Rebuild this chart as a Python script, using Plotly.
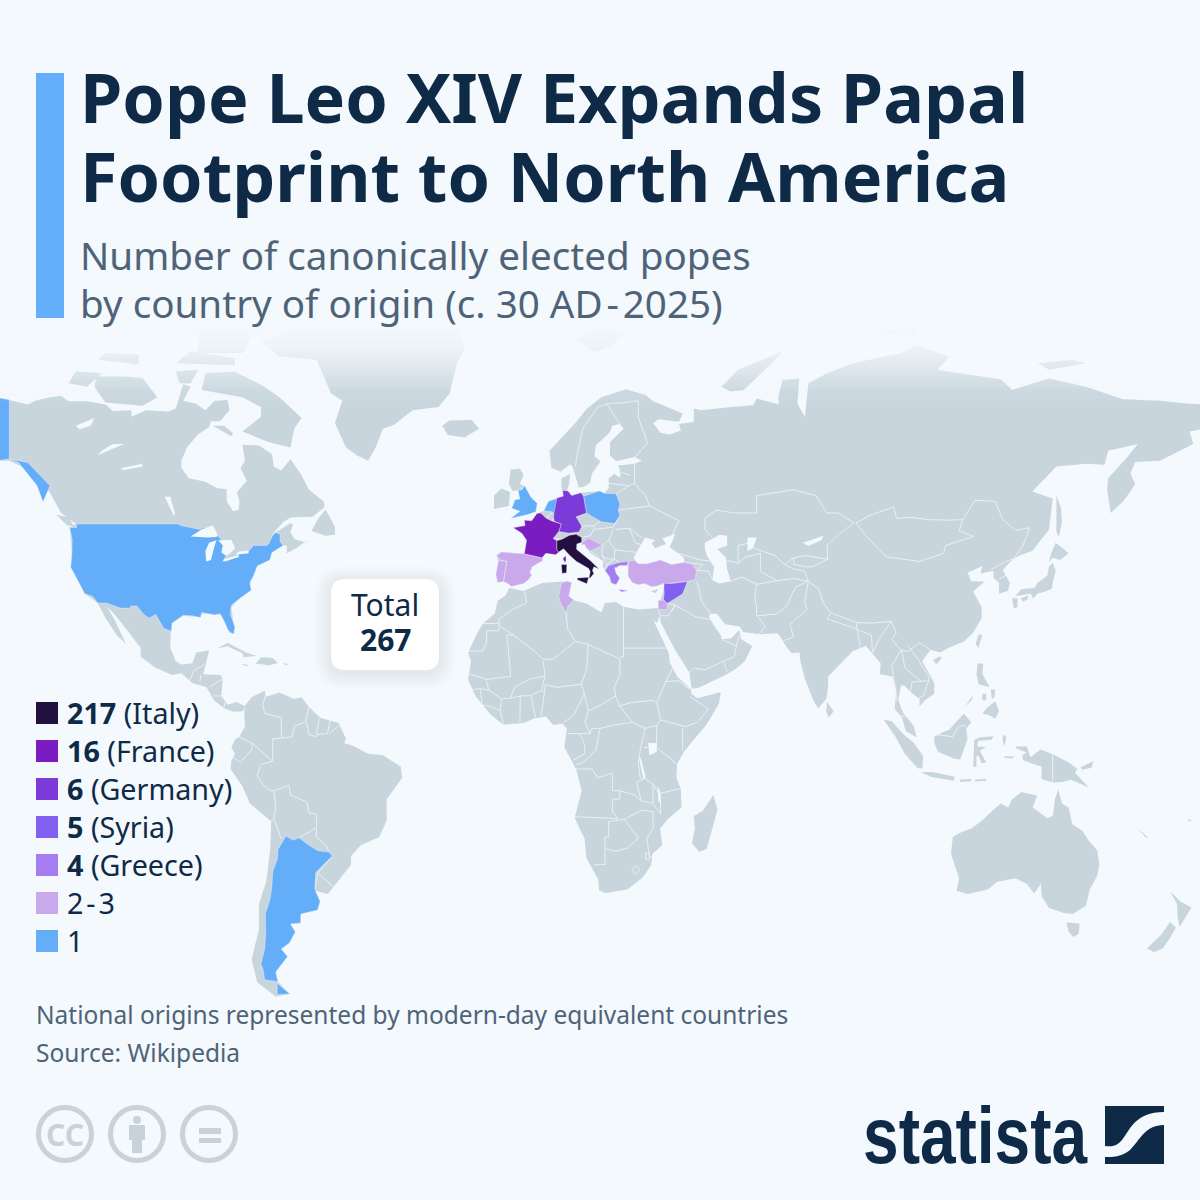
import numpy as np
import plotly.graph_objects as go

# colours
BG = "#f4f9fd"
LAND = "#c8d5dd"
EDGE = "#f1f6fa"
NAVY = "#0f2a47"
GREY = "#4f6378"
ICON = "#c9d2d8"
C_ITALY = "#22113f"
C_FRANCE = "#7a1cbf"
C_GERMANY = "#7c3bd9"
C_SYRIA = "#8260f0"
C_GREECE = "#a67cf3"
C_23 = "#c9a8ec"
C_1 = "#64adf9"

legend_values = ["217", "16", "6", "5", "4", "2\u200a-\u200a3", "1"]
legend_names = ["(Italy)", "(France)", "(Germany)", "(Syria)", "(Greece)", "", ""]
legend_colors = [C_ITALY, C_FRANCE, C_GERMANY, C_SYRIA, C_GREECE, C_23, C_1]
total_popes = 267

# map projection of the picture: longitude is linear, latitude follows this table
lat_knots = [-60, -55, -46.6, -39, -34.8, -25.6, -12, 0, 4.8, 25, 32.5, 36, 43.8, 49, 51, 60.3, 63.4, 66.5, 69.6, 71, 77.7, 84]
y_knots = [1022, 995, 952, 914, 893, 852, 795, 743, 723, 635, 603, 587, 552, 524, 513, 459, 438, 420, 400, 390, 345, 296]

# land, lon/lat
north_america = [(-150,70.4),(-141,69.6),(-136,68.9),(-134,69.5),(-130,70),(-127,70.2),(-125,69.4),(-120,69.4),(-115,68.9),(-113,67.9),(-108,68),(-108,67),(-104,68),(-98,67.8),(-96,68.3),(-94,71.9),(-92,71.5),(-94,69.5),(-90.5,69),(-88,68),(-85.5,69.5),(-82,69.6),(-81.5,68),(-84,66.3),(-86.5,66.3),(-87,65.3),(-90,64),(-93,62),(-94.5,60),(-94.5,58.8),(-92.5,57),(-88,56.4),(-85,55.3),(-82.3,55.1),(-82.2,53),(-80.5,51.3),(-79,51.5),(-78.8,53),(-79.5,54.6),(-76.8,56.5),(-78.5,58.7),(-77.3,60),(-78,62.4),(-73.5,62.3),(-70,61),(-69.5,59),(-67.5,58.3),(-65,60.3),(-62,57.5),(-60,55),(-56,53),(-55.8,52),(-59,50.3),(-65,50.2),(-67,49.3),(-70,47),(-65,49.2),(-64.3,48.8),(-65,47.5),(-64,46.2),(-61,45.6),(-60,46.2),(-63.5,44.5),(-66,43.5),(-66,45),(-67,45),(-70,43.7),(-74,40.7),(-76,36.5),(-81,31.5),(-80,25.3),(-81.5,25.5),(-83,29),(-84.5,30),(-89,30),(-90,29.2),(-94,29.5),(-97.3,27.5),(-97.5,22),(-96,19),(-94.5,18.2),(-91.5,18.5),(-90.5,21),(-87,21.5),(-88,18),(-88.6,16),(-84,15.8),(-83.3,15),(-83.7,11),(-82,9),(-79.5,9.6),(-77.4,8.7),(-77.8,7.5),(-80.3,7.4),(-83,8.2),(-85.7,10),(-87.7,13),(-91.5,14),(-94.5,16.2),(-97,15.8),(-101.5,17.5),(-105.5,20),(-105.5,22),(-109,26),(-112.7,30),(-114.7,31.7),(-112.5,28.5),(-110,24.2),(-109.5,23),(-112,25),(-115,29),(-117.1,32.5),(-120.5,34.5),(-122.5,37.5),(-124.4,40.4),(-124.1,44),(-124.7,48.4),(-123,49),(-127,51),(-130,54.5),(-133,57),(-137,58.8),(-141,60),(-150,60)]
south_america = [(-77.4,8.7),(-75.5,10.7),(-72,12.2),(-71.5,10.8),(-68,11.8),(-64,10.3),(-62,10.7),(-60,8.5),(-57,6),(-52,4.8),(-50,1),(-50.5,0),(-48,-0.7),(-44,-2.5),(-40,-2.8),(-35.2,-5.5),(-34.8,-8),(-39,-13),(-39,-18),(-41,-22),(-46,-24),(-48.6,-26.5),(-48.7,-28.5),(-53,-33),(-54.9,-35),(-58.4,-34.3),(-57,-36.5),(-57.7,-38.2),(-62.2,-39),(-62.3,-40.8),(-65,-41),(-63.7,-42.6),(-65.3,-44.8),(-67.5,-46),(-65.8,-47.5),(-69,-50.5),(-68.4,-52.4),(-65.2,-54.8),(-69,-55.3),(-74,-52.5),(-75.5,-48),(-73.5,-42),(-73.5,-37),(-71.5,-32),(-70.5,-25),(-70.2,-18.3),(-76,-14),(-78,-10),(-81.2,-6),(-81,-4.2),(-80,-2.5),(-81,-1),(-80,0.8),(-78.8,1.5),(-77.3,4),(-77.5,7)]
eurasia = [(-9,37),(-9.5,38.8),(-8.8,41.5),(-9.3,43),(-8,43.8),(-4,43.5),(-1.8,43.4),(-1.2,45),(-1.2,46.2),(-2.5,47.3),(-4.8,48.3),(-1.6,48.7),(-1.8,49.7),(0.2,49.6),(1.6,50.9),(3.5,51.4),(4.7,53),(7,53.6),(8.7,53.9),(8.2,55.5),(8.2,57),(10.6,57.7),(10.3,56),(9.8,54.9),(11,54),(13.5,54.5),(18.5,54.8),(19.8,54.4),(21,55.3),(21,57),(22.5,57.7),(24.2,57.1),(24,58.4),(23.5,59.2),(28,59.5),(30,60),(28,60.6),(23,59.9),(21.3,60.8),(21.4,62.8),(25,65),(24,65.8),(22,65.5),(21.2,64.3),(17.5,62.3),(17.2,60.7),(18.8,59.9),(16.5,57.8),(16,56.2),(14.3,55.5),(12.9,55.4),(11.3,58.9),(10.6,59.4),(8,58.1),(5.5,58.8),(5,61.5),(8.5,63.5),(12,66),(15,68.2),(19,70),(25.7,71.1),(31,70.3),(33,69.4),(41,67.5),(40,66.2),(34.5,66.6),(33,66),(35,64.3),(37.5,64),(40.5,64.7),(40,65.8),(44,66.2),(44,68.3),(46,68),(54,68.5),(60,68.8),(61,69.8),(67,68.9),(66.8,70),(68,72.5),(72.5,72.7),(72,69),(74,67),(75,72),(80,73.5),(87,75),(100,76.5),(104,77.7),(113,76),(110,74),(113,73.7),(127,72.6),(130,71),(140,72.7),(150,71.5),(160,69.7),(170,69.5),(178,69),(182,68.9),(182,65),(178,64.5),(179,62.5),(170,60),(163.3,59.8),(162,57.8),(163.3,56),(162,54.7),(160,53),(156.7,51),(155.7,55),(156,57),(161,60.5),(164,62.5),(156,61.5),(155,59.3),(150,59.5),(142,59),(135.5,54.7),(141,53.5),(140,48),(135.5,44),(132,43),(130,42),(127.5,39.8),(129.4,37),(129,35.2),(126.5,34.5),(126.5,37),(125,38),(125,39.6),(121.5,39),(122,40.7),(118,39.2),(119,37.3),(122.6,37.2),(119.5,35),(121.8,31.5),(121.8,29),(119.5,25.5),(117,23.5),(113.5,22.3),(110.5,21),(108,21.6),(105.7,19),(109,14),(109,11.5),(106.5,10),(105,8.6),(105,10.3),(102.5,12),(100.9,13.4),(100,13.4),(99.3,10),(100.5,7.2),(103.5,4),(104.2,1.4),(101.3,2.8),(100.3,6),(98.3,8),(98.7,12),(97.7,15.5),(95.5,15.9),(94.3,16),(94.5,18.5),(92.3,20.8),(90.5,22.5),(87,21.3),(85,19.5),(80.3,15.5),(80.3,13),(79.8,10.3),(77.6,8.1),(76.3,10),(74,15),(72.8,19),(72.6,21),(70.5,20.8),(69,22.3),(67.3,24.7),(66.5,25.4),(61.6,25.2),(57.3,25.7),(56.4,27),(52.5,27.5),(50.2,30),(48.5,30),(48,29.3),(50,26.5),(51.3,25),(51.6,24),(54,24.2),(56.3,26.2),(56.8,24),(59.8,22.5),(57.8,19),(55,17),(52,15.6),(45,12.8),(43.4,12.7),(42.8,16.4),(39,21.5),(35,28),(34.9,29.5),(34.3,31.3),(35,33),(35.9,35.5),(36.2,36.7),(34,36.2),(32.5,36.1),(30.6,36.8),(29,36.5),(27.4,37),(26.3,38.4),(26.2,39.5),(28,40.4),(29,41),(31.4,41.2),(35,42),(38,41),(41.5,41.5),(41.2,42.7),(37.5,44.7),(39,47.2),(35.5,46.3),(36.5,45.3),(33.5,44.5),(32.6,45.4),(33.6,46),(30.8,46.5),(29.7,45.2),(28.6,43.7),(27.7,42.5),(28.9,41.2),(26.4,40.8),(24,40.8),(23,40.3),(22.6,40.3),(23,39),(24,38),(23,36.5),(21.7,36.9),(21.2,38.3),(19.4,40.5),(19.5,41.8),(16,43.5),(14.5,45.2),(13.7,45.6),(12.4,45.3),(12.3,44.3),(13.6,43.5),(16,41.9),(18.4,40),(17,40.5),(16.6,39.7),(17,39),(16,38),(15.7,38),(16,39.4),(15.6,40.1),(14.2,40.8),(12.3,41.7),(10.5,43),(8.8,44.4),(6.7,43.2),(4,43.5),(3,42.5),(3.2,41.9),(0.3,40.5),(-0.3,39.3),(0.2,38.7),(-0.7,37.6),(-2,36.8),(-5.3,36.1),(-6.3,36.8),(-7.4,37.2)]
africa = [(-5.9,35.8),(-2,35.1),(3,36.9),(9.7,37.3),(11,37),(10.2,34),(11,33.2),(15,32.4),(19,30.3),(20,32.5),(23,32.7),(25,31.6),(29,31),(32,31.2),(34.3,31.3),(34.9,29.5),(34,27.8),(33.2,28.5),(32.6,29.9),(33.6,27.5),(35.5,24),(37.2,21),(37.5,18.7),(39.5,15.5),(43.3,12.5),(43.3,11.5),(45,10.5),(51.3,11.9),(50.8,9.3),(47.5,4.5),(41.5,-1.8),(39.5,-4.8),(39.3,-8),(40.5,-10.7),(40.7,-15),(37,-17.7),(34.9,-20),(35.5,-24),(32.8,-26),(32.5,-28.5),(30,-31.5),(26,-34),(20,-34.8),(18.4,-34.2),(18.2,-31.8),(15,-27),(14.5,-22.5),(11.8,-17.5),(13.7,-11),(12.2,-6),(9,-1),(9.7,3.5),(8.5,4.6),(6,4.3),(4,6.3),(1,5.9),(-2,4.8),(-7.5,4.4),(-11,6.8),(-13.5,9.5),(-15,11),(-17,14.7),(-16.2,19),(-17,21),(-14.8,25),(-13,27.7),(-9.8,30),(-9,33),(-6.8,34.2)]
australia = [(114,-22),(113.5,-26),(115.7,-31.5),(115,-34.3),(118,-35),(123.5,-34),(126,-32.3),(131,-31.5),(134,-32.8),(136,-34.9),(137.8,-32.7),(138,-35.5),(140,-37.8),(144,-38.8),(146.4,-39),(150,-37.3),(151,-34),(153,-31),(153.6,-28.6),(153,-25.2),(150.8,-23),(149,-20.5),(146.3,-19),(145.3,-15),(143.5,-14),(142.5,-10.7),(141.6,-13),(141,-17),(139.5,-17.5),(135.6,-15),(136.8,-12.2),(132.6,-11.3),(130,-13),(129,-15),(127,-14),(125,-15.5),(122,-18),(119,-20),(116,-21)]
greenland = [(-73,78.2),(-68,76),(-58,75.5),(-54,70.5),(-51,69.5),(-53,66),(-50,62),(-47,60.8),(-44,60),(-42,62),(-40,65),(-37,65.7),(-32,68),(-25,68.5),(-22,70.5),(-20,75),(-18,77),(-20,81),(-30,83.5),(-45,82.8),(-60,82),(-65,80.5),(-68,79)]
islands = [
    [(-80,73.7),(-72,71.5),(-68,70),(-62,66.8),(-64,65),(-65,62),(-71,62.8),(-78,64.5),(-73,67),(-73,68.5),(-78,70),(-89,71),(-88,73.5)],
    [(-118,71.5),(-117.5,73),(-110,73),(-105,72.8),(-101,70),(-105,68.7),(-115,69.2)],
    [(-125,72),(-123,73.8),(-116,73.5),(-120,71.5)],
    [(-90,76.5),(-78,76.5),(-75,79),(-65,81),(-62,82.5),(-75,83),(-90,81.5)],
    [(-96,75),(-80,74.7),(-80,75.7),(-92,76.8)],
    [(-95,80),(-87,79),(-88,81.5)],
    [(-96,73.8),(-90,74),(-92,72),(-95,72)],
    [(-117,75.5),(-106,74.8),(-106,76.3),(-115,76.5)],
    [(-86,65.5),(-81,63.7),(-80.5,64.2),(-83,65.5)],
    [(-59.3,47.7),(-55.5,46.8),(-53,47),(-53,48.5),(-55.5,51.6),(-57.5,50)],
    [(-128.3,50.7),(-125,50.2),(-123.3,48.4),(-125.5,48.8)],
    [(-24,65.5),(-22,66.4),(-16,66.5),(-14,65),(-18,63.5),(-22.5,63.9)],
    [(12,78.5),(17,80),(27,80),(22,77.5),(17,76.7)],
    [(51.5,71.5),(56,74),(68,76.8),(66,75.5),(57.5,71),(54,70.8)],
    [(95,79),(105,79),(100,81)],
    [(137,75),(146,75.5),(150,75),(140,74)],
    [(142,54),(143.2,52),(143.5,49.3),(142.7,46.7),(142,47.5),(142,50)],
    [(-84.9,21.9),(-82,23.2),(-77,21),(-74.2,20.2),(-77.7,19.9),(-78,20.8),(-82,22.4)],
    [(-74.4,18.4),(-73,19.9),(-69.8,19.7),(-68.4,18.6),(-71,18),(-72,18.2)],
    [(-78.3,18.4),(-76.3,18.1),(-77,17.8)],
    [(-67.2,18.5),(-65.7,18.4),(-66,18)],
    [(-5.5,58.5),(-3,58.6),(-2,57.6),(-3,56),(-1.7,55.6),(-3,55),(-5,54.8),(-6,56)],
    [(-10,54),(-8,55.2),(-5.7,54.6),(-6,52.2),(-10,51.7)],
    [(80,9.6),(81.8,7.5),(80.5,6),(79.8,7.5)],
    [(121,25.2),(122,25),(120.9,22),(120.2,23)],
    [(108.7,19.3),(110.5,20.1),(111,19.6),(109.5,18.2)],
    [(130.9,34),(132.5,35.5),(136,35.8),(137,37),(139.5,38.5),(140,40.5),(141,41.5),(141.8,39.5),(141,37),(140.8,35.6),(139,35),(137,34.6),(135.7,33.5),(135,34.6),(132.5,34.2)],
    [(140,41.5),(140.5,43.3),(141.8,45.5),(145.3,43.5),(143,42),(141,42.5)],
    [(130,33.5),(131.5,33.6),(131.5,31.5),(130.5,31.2)],
    [(132.3,33.5),(134.5,34.2),(134.2,33.3),(133,32.8)],
    [(120.4,16),(120.7,18.5),(122.2,18.4),(122,16),(124,13),(121,13.7)],
    [(122,7),(123.5,8.5),(125.5,9.8),(126.5,7.5),(125.5,5.8),(124,6.5)],
    [(122,11.5),(123,11.5),(123,10),(122,10)],
    [(124.3,12.5),(125.5,12.5),(125.2,10.5),(124.5,10.5)],
    [(117.2,8.4),(119.5,11.3),(119.2,10.2)],
    [(109,1.5),(111.5,2.7),(113,3.2),(115.5,5.5),(117,7),(119,5),(117.6,3.5),(118,1),(116,-3.8),(114,-3.5),(110,-2),(109,0)],
    [(95.3,5.6),(97.5,5.2),(100.5,2.2),(103.5,0),(106,-3),(105.8,-5.8),(104.5,-5.8),(101,-2.5),(98.5,1.5)],
    [(105.3,-6.7),(108.5,-6.7),(114.5,-7.8),(114.3,-8.7),(108,-7.8)],
    [(116,-8.4),(119,-8.3),(119,-8.8),(116,-9)],
    [(120,-8.4),(123,-8.3),(123,-8.7),(120,-8.9)],
    [(123.5,-10.2),(127.2,-8.4),(125,-9.5)],
    [(119.5,-5.5),(119.8,0.7),(121,1.3),(125,1.6),(124.5,0.8),(120.8,0.5),(120.6,-0.8),(123,-0.9),(121.3,-1.8),(123,-4.5),(121.8,-4.7),(120.9,-2.8),(120.4,-3),(120.4,-5.5)],
    [(127.5,2),(128.5,1.5),(128,-0.8),(127.5,0.5)],
    [(128,-3),(130.8,-3.2),(130,-3.6),(128,-3.4)],
    [(131,-0.8),(134,-0.8),(135,-3.3),(137.7,-1.5),(141,-2.6),(145,-4.3),(147.7,-6),(147,-6.8),(150.8,-10.3),(146,-8.5),(143.5,-9),(141,-9.1),(138,-8.3),(138,-5.5),(133,-4),(132.8,-2.8),(134,-2.2),(131,-1.2)],
    [(148.5,-5.6),(152,-4.2),(151.5,-5.7),(149,-6.2)],
    [(164,-20),(167,-22.3),(166,-22)],
    [(177.5,-17.7),(178.6,-18),(177.8,-18.3)],
    [(144.7,-40.7),(148.3,-40.9),(148,-43),(146.5,-43.6),(145.3,-42.5)],
    [(172.7,-34.4),(175.5,-36.5),(178.5,-37.7),(177,-39.5),(175.3,-41.6),(174.8,-39.8),(174.6,-37)],
    [(172.7,-40.6),(174.3,-41.7),(172.8,-43.7),(170.7,-45.9),(168.4,-46.6),(166.5,-45.9),(170.5,-43)],
    [(49.3,-12),(50.4,-15.5),(47.5,-24.8),(45.5,-25.6),(43.5,-23.5),(44.3,-20),(44,-17),(46.5,-15.7)],
    [(32.3,35),(34.5,35.6),(33.7,34.7)],
]
lakes = [
    [(-92,46.7),(-89,48),(-86,48.7),(-84.7,47),(-85,46.6),(-87.5,46.5)],
    [(-87.8,41.7),(-86.5,42),(-85.5,45),(-85,46),(-87,45.5),(-88,44)],
    [(-84.5,46),(-81,46),(-80,44.5),(-81.7,43.3),(-82.5,43),(-83.7,43.7),(-83.3,45)],
    [(-83.4,41.7),(-79,42.7),(-79,43),(-83,42.2)],
    [(-79.7,43.2),(-76.3,43.5),(-76.4,44.1),(-79.2,43.8)],
    [(-123,65.5),(-118,66.8),(-119,65.5),(-122,64.9)],
    [(-117,60.9),(-110,62.5),(-113,62.5),(-116,61.5)],
    [(-99,53.8),(-96.5,50.5),(-96.2,50.9),(-97.5,53.8)],
    [(-111,58.7),(-105,59.5),(-105,59),(-110,58.4)],
    [(47,45.5),(51,47),(53,46.8),(53,45),(51,44.5),(50.3,44.4),(52.7,42.5),(53,40),(54,37.3),(51,36.8),(49,37.5),(49.5,40.4),(47.5,43),(47,44.5)],
    [(58.5,46.5),(61,46.5),(60,44.5),(58.5,44)],
    [(73.5,45.5),(79,46.8),(78.5,46),(75,44.9)],
    [(31.7,0),(34,0),(34,-2),(32,-2.8)],
    [(29.2,-3.5),(29.7,-3.5),(31,-8),(30.3,-8)],
    [(34.2,-9.8),(34.8,-11),(35,-14),(34.4,-13.5)],
]

# coloured countries, lon/lat
usa = [(-124.7,48.4),(-122.8,48.3),(-122.8,49),(-95.2,49),(-94.7,48.7),(-92,48.3),(-89.5,48),(-88.4,48.3),(-84.8,46.9),(-84.3,46.5),(-83.6,46.1),(-82.5,45.3),(-82.4,43),(-83,42.1),(-82.7,41.7),(-79,42.8),(-79.2,43.4),(-76.8,43.6),(-75,45),(-71.5,45),(-70.8,45.4),(-70,46.7),(-69,47.4),(-67.8,47.1),(-67.8,45.7),(-67,45),(-70,43.7),(-70.6,42),(-74,40.7),(-75,38.5),(-76,37),(-75.6,35.3),(-78,33.9),(-81,32),(-81.3,30),(-80,26.8),(-80.5,25.2),(-81.8,26),(-82.8,28),(-84,30),(-85.5,29.7),(-89,30.3),(-89.3,29.1),(-91.5,29.5),(-94,29.6),(-97,27.8),(-97.2,25.9),(-99.2,26.5),(-101.4,29.8),(-103.2,29),(-104.5,29.7),(-106.5,31.8),(-108.2,31.8),(-108.2,31.3),(-111,31.3),(-114.8,32.5),(-117.1,32.5),(-118.5,34),(-120.6,34.5),(-122.4,37.5),(-123.8,39.5),(-124.4,40.4),(-124.1,43),(-124,46.2)]
alaska = [(-150,70.5),(-141,69.65),(-141,60.3),(-150,59.5)]
alaska_panhandle = [(-141,60.3),(-136,59.7),(-130,55.7),(-131.9,52.9),(-133.5,55.7),(-138.5,59.7)]
argentina = [(-66.2,-21.8),(-64.3,-22.8),(-62.7,-22.2),(-60,-24),(-57.6,-25.3),(-54.6,-25.6),(-53.7,-26.5),(-55.8,-28.3),(-58.2,-30.2),(-58.4,-34),(-57,-36.5),(-57.7,-38.2),(-62.2,-39),(-62.3,-40.8),(-65,-41),(-63.7,-42.6),(-65.3,-44.8),(-67.5,-46),(-65.8,-47.5),(-69,-50.5),(-68.4,-52.4),(-72,-52),(-72.4,-50),(-73,-49),(-72,-46),(-71.7,-43),(-71.8,-39),(-70.5,-36),(-70,-33),(-69.8,-30),(-68.5,-27),(-68.4,-25),(-67,-23)]
argentina_fuego = [(-68.6,-52.7),(-65.2,-54.8),(-68.6,-54.9)]
england_wales = [(-1.7,55.7),(0,53.7),(1.7,52.7),(1.3,51.2),(-1,50.7),(-5.5,50),(-3,51.3),(-5.2,51.8),(-4.3,53.3),(-3,53.4),(-3.5,54.9),(-2.5,55)]
netherlands = [(3.5,51.4),(4.7,53),(7,53.5),(7,52),(6,50.8),(5.8,51.2)]
poland = [(14.2,53.9),(18.5,54.8),(19.8,54.4),(23,54.3),(24,52.5),(23.6,51.5),(24,50.5),(22.6,49.1),(19,49.4),(15,51),(14.7,52)]
france = [(1.6,50.9),(2.6,51),(4.2,50),(5.8,49.5),(8.2,49),(7.5,47.6),(6,46.3),(7,45.9),(7,44.2),(7.5,43.8),(6.7,43.2),(4,43.5),(3,42.5),(-1.8,43.4),(-1.2,46),(-2.5,47.3),(-4.8,48.3),(-1.6,48.7),(-1.8,49.7),(0.2,49.6)]
corsica = [(8.6,42.3),(9.4,43),(9.5,42),(9.2,41.4)]
italy = [(7,44.2),(7,45.9),(8.5,46.2),(10.4,46.9),(12.2,47.1),(13.7,46.5),(13.7,45.6),(12.4,45.3),(12.3,44.3),(13.6,43.5),(16,41.9),(18.4,40),(17,40.5),(16.6,39.7),(17,39),(16,38),(15.7,38),(16,39.4),(15.6,40.1),(14.2,40.8),(12.3,41.7),(10.5,43),(8.8,44.4),(7.5,43.8)]
sicily = [(12.5,38),(15.6,38.2),(15.1,36.7),(12.5,37.6)]
sardinia = [(8.2,41),(9.7,41),(9.6,39.2),(8.4,39)]
germany = [(6.2,51),(7,53.6),(8.7,53.9),(8.6,54.9),(10,54.8),(11,54),(13.5,54.5),(14.2,53.9),(14.7,52),(15,51),(12.2,50.3),(13.7,48.6),(13,47.5),(10.2,47.3),(7.5,47.6),(8.2,49),(6.3,49.5),(6.1,50.2)]
spain = [(-9.3,43),(-8,43.8),(-4,43.5),(-1.8,43.4),(3,42.5),(3.2,41.9),(0.3,40.5),(-0.3,39.3),(0.2,38.7),(-0.7,37.6),(-2,36.8),(-5.3,36.1),(-6.3,36.8),(-7.4,37.2),(-7,39.5),(-6.5,41.7),(-8.2,42)]
portugal = [(-8.8,41.9),(-6.5,41.7),(-7,39.5),(-7.4,37.2),(-9,37),(-9.5,38.8)]
turkey = [(26.2,39.5),(26.3,40.9),(26.6,41.8),(28,41.9),(29,41.2),(31.4,41.2),(35,42),(38,41),(41.5,41.5),(43.5,41.1),(44.7,39.7),(44.4,37.7),(42.3,37.2),(38,36.8),(36.7,36.8),(36.2,36),(36,36.9),(34,36.2),(32.5,36.1),(30.6,36.8),(29,36.5),(27.4,37),(26.3,38.4)]
syria = [(35.9,35.7),(36,36.9),(36.7,36.8),(38,36.8),(42.3,37.2),(41,34.5),(38.8,33.4),(36.8,32.4),(35.8,33.3),(36,34.6)]
greece = [(20,39.7),(21,40.8),(24,41.5),(26.3,41.7),(26,40.8),(24,40.8),(23,40.3),(22.6,40.3),(23,39),(24,38),(23,36.5),(21.7,36.9),(21.2,38.3)]
crete = [(23.6,35.5),(26.3,35.2),(24.5,34.9)]
tunisia = [(8.2,36.9),(9.7,37.3),(11,37),(10.2,34),(11.5,33.2),(10,31.8),(9.5,30.2),(8,32.5),(7.5,34)]
croatia = [(13.6,45.1),(13.7,45.5),(15.6,46.4),(17,45.9),(19.3,45),(16,44),(18.5,42.5),(15,44.5),(14.5,45.2)]
palestine = [(34.4,31),(34.4,33.1),(36.8,33.1),(36.8,31)]

# country borders, lon/lat
borders = [
    # africa
    [(-1.7,35),(-1.2,32.5),(-5,31),(-8.7,28.7)], [(-8.7,27.7),(-13,27.7)],
    [(-8.7,28.7),(-8.7,26),(-12,26),(-12,23.4),(-13,21.3),(-17,21.3)],
    [(-8.7,27.3),(-4.8,25),(1.2,21.1),(3.2,19.5),(5.8,19.4),(12,23.5)],
    [(9.5,30.2),(9.9,26.5),(11.9,23.5)], [(25,31.6),(25,22)], [(25,22),(36.9,22)],
    [(12,23.5),(15,23),(24,19.5),(24,15.7)], [(25,22),(25,20),(24,20)],
    [(-4.8,25),(-6.5,25),(-5.5,15.5),(-12,14.8),(-16.5,16)],
    [(-12.2,14.8),(-11.4,12.4),(-13.7,12.7),(-16.7,12.4)], [(-13.7,12.6),(-13.3,9.5)],
    [(-11.4,12.4),(-8,10.3),(-8.3,7.6),(-10.7,8.5),(-13,9)], [(-8.3,7.6),(-7.5,4.4)],
    [(-5.5,10.5),(-8,10.3)], [(-5.5,10.5),(-2.9,11),(-0.1,11.1),(2.8,12.3)],
    [(-5.5,10.5),(-4.5,13),(-2,14.2),(0.2,15),(3.8,15.5),(3.3,19)],
    [(-2.9,11),(-3,5)], [(0,11),(1.2,6.1)], [(2.7,6.4),(3.6,11.7),(2.8,12.3)],
    [(3.6,11.7),(3.8,13.6),(7,13),(13.6,13.7),(14.4,11.5),(11.5,6.5),(8.6,4.8)],
    [(2.8,12.3),(3.8,15.5)], [(15.5,23),(15,17),(13.6,13.7)],
    [(24,15.7),(22.5,13),(22.8,11),(24,8.7)], [(14.4,11.5),(15.5,7.5),(19,9),(22.8,11)],
    [(15.5,7.5),(14.6,5),(16,2.2)], [(16,2.2),(16.5,3.5),(18.6,3.5),(22,4.2),(27.4,5),(30.8,3.5)],
    [(24,8.7),(27,9.5),(33,10),(34,9.5)], [(24,8.7),(27.4,5)], [(30.8,3.5),(34,4.2),(35,5.5)],
    [(38.6,18),(36.4,14.3),(40,14.5),(43,12.5)], [(36.9,22),(38.5,18)],
    [(36.4,14.3),(34,9.5),(35,5.5),(41.8,3.9)], [(41.8,3.9),(45,5),(48,8),(43,10.9)],
    [(41,-1.7),(41,3.5)], [(34,4.2),(34,1),(33.9,-1)], [(30.5,-1),(33.9,-1),(37.6,-3.5),(39.2,-4.7)],
    [(30.8,3.5),(29.6,-1.3),(29,-4.5),(29.5,-8),(30.7,-8.2)], [(30.7,-8.2),(33,-9.5),(34.5,-11.6)],
    [(34.9,-11.6),(40.4,-10.5)], [(18.6,3.5),(17.6,-1.5),(16,-3),(14,-4.5),(12.2,-5)],
    [(13.3,2.2),(14.5,-0.5),(14.5,-2.5),(11.3,-4)], [(9.8,2.3),(16,2.2)],
    [(12.2,-6),(16.5,-6),(18,-8),(22,-7),(22,-11),(24,-11),(24,-13),(22,-13),(22,-16),(23.4,-17.5)],
    [(24,-11),(28,-12),(29.8,-13.4),(28.5,-9),(30.7,-8.2)], [(11.8,-17.2),(18,-17.5),(23.4,-17.6)],
    [(25.2,-17.8),(21,-18.3),(21,-22),(20,-22),(20,-28.4),(17,-28.5)],
    [(20,-24.8),(23,-25.4),(26,-24.7),(29,-22.3)], [(25.2,-17.8),(29,-22.3)],
    [(25.2,-17.8),(30,-15.6),(33,-16),(33,-20),(31.3,-22.4)], [(31.3,-22.4),(32,-26.5),(32.9,-26.9)],
    [(33,-9.5),(33,-14),(35,-16.5),(35,-11.5)], [(29.8,-13.4),(33,-14)],
    [(27.2,-29.6),(28.5,-28.7),(29.4,-29.6),(28.2,-30.6),(27.2,-29.6)],
    [(31,-25.8),(32,-26),(32,-27.2),(31,-27.2),(31,-25.8)],
    # south and central america
    [(-71.5,12),(-72.5,9),(-72,7),(-67.5,6),(-67.5,2),(-67,1.2)],
    [(-67,1.2),(-69.8,1),(-69.8,-4.2)], [(-69.9,-4.2),(-75.3,-0.1),(-78.8,1.4)],
    [(-75.3,-0.1),(-75.5,-1.5),(-78.5,-4.5),(-80.3,-3.4)],
    [(-69.9,-4.2),(-73,-5),(-74,-7.5),(-72.5,-9.5),(-70.5,-11),(-69.5,-11)],
    [(-69.5,-11),(-69,-15),(-69.5,-17.5),(-70.3,-18.3)], [(-69.5,-17.5),(-68.5,-20),(-67.5,-22.5)],
    [(-69.5,-11),(-65.4,-9.8),(-65,-12),(-60.5,-13.7),(-60,-16.3),(-58,-16.5),(-58,-19.8)],
    [(-58,-19.8),(-62.6,-22.2)], [(-58,-20),(-58,-22),(-55.5,-24),(-54.5,-25.5)],
    [(-60,8.4),(-61,5),(-64,4),(-64.5,1.5),(-67,1.2)], [(-57.2,5.8),(-58,2),(-55,2.3),(-54.2,5.7)],
    [(-54.5,2.3),(-51.8,4.2)], [(-60.7,5.1),(-60,2),(-58,1.5)],
    [(-58.4,-33.9),(-57.6,-30.3),(-53.3,-33.5)], [(-53.7,-26.5),(-57.6,-30.3)],
    [(-92.2,14.6),(-91,17),(-89,17.8),(-88.2,18.4)], [(-89.2,15.9),(-89.5,14.3)],
    [(-83.2,15),(-87,13)], [(-83.7,11),(-85.7,11)], [(-83,8.3),(-82.7,9.5)],
    # europe
    [(12,59),(12.5,61),(14,65),(18,68.5),(20.5,69)], [(24,65.8),(20.5,69)],
    [(28,60.5),(31.5,62.7),(29,66.9),(29,69.5),(25.5,69.2),(20.5,69)],
    [(28,59.4),(28,56.1)], [(24.4,58),(27,57.5)], [(21,56.1),(26.5,55.7)],
    [(23,54.3),(26.5,55.7),(28,56.1)], [(28,56.1),(31,54),(32,52.2)], [(23.6,51.5),(32,52.2)],
    [(32,52.2),(40,49.6),(38.2,47.1)], [(22.2,48.4),(24,50.5)], [(22.9,48),(26.6,48.2),(28.2,45.5),(29.7,45.2)],
    [(26.6,48.2),(30,46.4)], [(13.7,48.6),(17,48.7),(18.8,49.5)], [(17,48),(22.2,48.4)],
    [(17,48.7),(17,48),(16,46.8)], [(13.7,46.5),(16,46.8)], [(10.2,47.3),(13,47.5)],
    [(22.2,48),(21,46),(19.3,45)], [(21,46),(22.7,44.2)], [(22.7,44.2),(28.6,43.7)],
    [(22.7,44.2),(22.5,42.2),(24,41.5)], [(20.5,41),(22.5,42.2)], [(19.5,42.5),(20.5,41),(20,39.7)],
    [(19.3,45),(19.2,43),(19.5,42.5)], [(19.2,43),(20.5,42.3),(22.5,42.2)],
    [(4.2,50),(5.8,51.2)], [(5.8,49.5),(6.1,50.2)], [(7.5,47.6),(10.2,47.3)], [(8.5,46.2),(6,46.3)],
    [(8.6,54.9),(10,54.8)],
    # caucasus and middle east
    [(40,43.5),(46,42),(48.6,41.8)], [(41.5,41.5),(46.5,41),(45,39.7)], [(44.8,39.7),(48,39.5),(49,37.7)],
    [(36.8,32.4),(39,32),(37,29.5),(35,29.5)], [(34.3,31.3),(34.9,29.5)],
    [(38,30.5),(39,32),(44.7,29.2),(46.5,29),(48.4,28.5)], [(48.5,30),(46,33),(45.5,35.5),(44.7,37.2)],
    [(42.8,16.4),(44,17.4),(47,17),(52,19),(53,16.6)], [(52,19),(55,20),(55.5,22.5),(52,23.8),(51.6,24.2)],
    [(55.5,22.5),(56.3,25)],
    # asia
    [(61,36.6),(60.5,34),(61,31.4),(60.9,29.8),(63.3,27),(61.6,25.2)], [(53.9,37.3),(57,38.2),(61,36.6)],
    [(61,36.6),(64.5,37.2),(66.5,37.4)], [(66.5,37.4),(71,37.9),(74.9,37.3)],
    [(74.9,37.3),(71.5,36),(70,33.5),(69.3,31.9),(66.3,29.9),(61,29.5)],
    [(52.8,42),(56,41.3),(56,45),(59,45.5),(61,44.3),(66,43),(68.5,41),(71,42.5),(74,43),(80.2,42.2)],
    [(80.2,42.2),(80,45),(83,47),(85.7,48.4),(87.3,49.2)],
    [(87.3,49.2),(83,51),(80,51),(77,54),(71,55),(61,54),(61,51),(55,51),(50,51.5),(47,50),(47,48),(49,46.5)],
    [(56,41.3),(58,42.7),(62,43.5)], [(62,43.5),(62,39.5),(66.5,37.4)], [(68.5,41),(71,40),(74,39.5)],
    [(71,42.5),(71,41),(74,40.5),(76,40.5),(80.2,42.2)], [(74,39.5),(74.9,37.3)],
    [(87.8,49.2),(92,50.7),(98,52),(98.8,50),(103,50.2),(107,49.8),(113,49.7),(116.7,49.8)],
    [(87.8,49.2),(91,46.5),(96,42.7),(105,41.7),(111.5,43.5),(112,45),(119.7,46.7),(115.7,47.7),(116.7,49.8)],
    [(116.7,49.8),(120,53.2),(125.5,53),(127.5,49.8),(131,47.8),(134.7,48.3),(133,45),(131,43),(130.6,42.4)],
    [(130.6,42.4),(128,41.5),(124.4,40)], [(126.6,37.8),(128.4,38.6)],
    [(74.9,37.3),(77.8,35.5),(79,32.5),(81,30.2),(88,27.9),(92,27.8),(97.3,28.2),(98.7,25.5),(97.5,24),(100,21.5),(101.8,21.2),(105,23.2),(108,21.6)],
    [(80.1,28.8),(88,26.4)], [(81,30.2),(80.1,28.8)], [(88,26.4),(88,27.9)],
    [(74.9,37),(74,33),(74.5,31),(70,27.5),(71,24.5),(68.2,23.7)],
    [(88.2,26.4),(89,22)], [(88.1,26.3),(92,25),(92.3,21)], [(97.3,28.2),(94,24),(92.5,21)],
    [(100,21.5),(97.5,18),(99,10),(98.7,10)], [(102,22.4),(104.5,19.5),(107.5,15.5),(107.5,14.5)],
    [(100.5,20.2),(101,17.5),(105.5,14.3)], [(102.5,12),(103,14.2),(107.5,14.5),(106,11),(104.5,10.4)],
    [(100,6.5),(102,6.2)], [(100.1,21.5),(100.5,20.2)],
    [(109.6,2),(114,1.5),(115.5,4),(117.5,4.2)], [(141,-2.6),(141,-9.1)],
]

fill_groups = [
    ([usa, alaska, alaska_panhandle, argentina, argentina_fuego, england_wales, netherlands, poland], C_1),
    ([spain, portugal, turkey, tunisia, croatia, palestine], C_23),
    ([greece, crete], C_GREECE),
    ([syria], C_SYRIA),
    ([germany], C_GERMANY),
    ([france, corsica], C_FRANCE),
    ([italy, sicily, sardinia], C_ITALY),
]

LON0 = 531
PX_PER_DEG = 3.7

# how much of the map shows through near the heading, by picture row
fade_rows = [322, 345, 370, 390, 405]
fade_alpha = [1.0, 0.85, 0.45, 0.12, 0.0]


def project(polys, closed=True):
    xs, ys = [], []
    for poly in polys:
        pts = list(poly) + [poly[0]] if closed else list(poly)
        xs += [p[0] for p in pts] + [None]
        ys += [float(np.interp(p[1], lat_knots, y_knots)) for p in pts] + [None]
    return xs, ys


def fx(x):
    return x / 1200


def fy(y):
    return 1 - y / 1200


def rounded(x0, y0, x1, y1, r):
    a, b, c, d = fx(x0), fy(y0), fx(x1), fy(y1)
    rx, ry = r / 1200, r / 1200
    return (f"M {a+rx} {b} L {c-rx} {b} Q {c} {b} {c} {b-ry} L {c} {d+ry} Q {c} {d} {c-rx} {d} "
            f"L {a+rx} {d} Q {a} {d} {a} {d+ry} L {a} {b-ry} Q {a} {b} {a+rx} {b} Z")


def px_path(cmds):
    out = []
    for c in cmds:
        if isinstance(c, str):
            out.append(c)
        else:
            out.append(f"{fx(c[0])} {fy(c[1])}")
    return " ".join(out)


def rect(x0, y0, x1, y1, color):
    return dict(type="rect", xref="paper", yref="paper", x0=fx(x0), x1=fx(x1), y0=fy(y0), y1=fy(y1),
                fillcolor=color, line_width=0, layer="above")


def text(x, y, s, size, color, anchor="left", family="Noto Sans"):
    return dict(xref="paper", yref="paper", x=fx(x), y=fy(y), text=s, showarrow=False, xanchor=anchor,
                yanchor="middle", align=anchor, font=dict(family=family, size=size, color=color))


fig = go.Figure()

x, y = project([north_america, south_america, eurasia, africa, australia, greenland] + islands)
fig.add_trace(go.Scatter(x=x, y=y, mode="lines", fill="toself", fillcolor=LAND, line=dict(width=0), hoverinfo="skip"))

x, y = project(borders, closed=False)
fig.add_trace(go.Scatter(x=x, y=y, mode="lines", line=dict(color=EDGE, width=0.8), hoverinfo="skip"))

x, y = project(lakes)
fig.add_trace(go.Scatter(x=x, y=y, mode="lines", fill="toself", fillcolor=BG, line=dict(width=0), hoverinfo="skip"))

for polys, color in fill_groups:
    x, y = project(polys)
    fig.add_trace(go.Scatter(x=x, y=y, mode="lines", fill="toself", fillcolor=color,
                             line=dict(color=EDGE, width=0.4), hoverinfo="skip"))

# great lakes cut into the usa again
x, y = project(lakes[:5])
fig.add_trace(go.Scatter(x=x, y=y, mode="lines", fill="toself", fillcolor=BG, line=dict(width=0), hoverinfo="skip"))

shapes = []

# the map fades out under the heading
shapes.append(rect(0, 0, 1200, fade_rows[0], BG))
for row in range(fade_rows[0], fade_rows[-1], 2):
    alpha = float(np.interp(row, fade_rows, fade_alpha))
    shapes.append(rect(0, row, 1200, row + 2, f"rgba(244,249,253,{alpha:.3f})"))

shapes.append(rect(36, 73, 64, 318, "#64aefb"))

for i in range(8, 0, -1):
    shapes.append(dict(type="path", xref="paper", yref="paper", layer="above", line_width=0,
                       path=rounded(331 - 2 * i, 579 - 2 * i + 3, 439 + 2 * i, 670 + 2 * i + 3, 14 + 2 * i),
                       fillcolor="rgba(60,80,100,0.012)"))
shapes.append(dict(type="path", xref="paper", yref="paper", layer="above", line_width=0,
                   path=rounded(331, 579, 439, 670, 14), fillcolor="#ffffff"))

annotations = [
    text(78, 97, "<b>Pope Leo XIV Expands Papal</b>", 68.2, NAVY),
    text(78, 175, "<b>Footprint to North America</b>", 68.2, NAVY),
    text(78, 255, "Number of canonically elected popes", 38.6, GREY),
    text(78, 303, "by country of origin (c. 30 AD\u200a-\u200a2025)", 38.6, GREY),
    text(385, 604, "Total", 30, NAVY, anchor="center"),
    text(385, 639, f"<b>{total_popes}</b>", 30, NAVY, anchor="center"),
    text(34, 1014, "National origins represented by modern-day equivalent countries", 24.5, GREY),
    text(34, 1052, "Source: Wikipedia", 24.5, GREY),
]

for i, (value, name, color) in enumerate(zip(legend_values, legend_names, legend_colors)):
    top = 702 + 38 * i
    shapes.append(rect(36, top, 58, top + 22, color))
    label = f"<b>{value}</b> {name}" if name else value
    annotations.append(text(65, top + 10, label, 28.7, NAVY))

# licence icons
for cx in [65, 137, 209]:
    shapes.append(dict(type="circle", xref="paper", yref="paper", layer="above", x0=fx(cx - 26.5), x1=fx(cx + 26.5),
                       y0=fy(1134 + 26.5), y1=fy(1134 - 26.5), line=dict(color=ICON, width=5), fillcolor="rgba(0,0,0,0)"))
annotations.append(text(65, 1134, "<b>CC</b>", 30, ICON, anchor="center"))
shapes.append(dict(type="circle", xref="paper", yref="paper", layer="above", x0=fx(133), x1=fx(141),
                   y0=fy(1124), y1=fy(1116), line_width=0, fillcolor=ICON))
shapes.append(rect(129, 1125, 145, 1140, ICON))
shapes.append(rect(132, 1140, 142, 1153, ICON))
shapes.append(rect(199, 1128, 221, 1134, ICON))
shapes.append(rect(199, 1138, 221, 1143, ICON))

# statista logo, the wordmark gets squeezed to its width in the page
annotations.append(text(975, 1135, "<b>statista</b>", 80, NAVY, anchor="center", family="Liberation Sans"))
shapes.append(dict(type="path", xref="paper", yref="paper", layer="above", line_width=0, fillcolor=NAVY,
                   path=px_path(["M", (1105, 1106), "L", (1164, 1106), "L", (1164, 1112), "C", (1135, 1112), (1130, 1130),
                                 (1122, 1140), "C", (1117, 1146), (1112, 1147), (1105, 1146), "Z"])))
shapes.append(dict(type="path", xref="paper", yref="paper", layer="above", line_width=0, fillcolor=NAVY,
                   path=px_path(["M", (1164, 1125), "C", (1145, 1125), (1140, 1140), (1130, 1150), "C", (1122, 1157),
                                 (1112, 1157), (1105, 1157), "L", (1105, 1164), "L", (1164, 1164), "Z"])))

fig.update_layout(
    width=1200, height=1200,
    margin=dict(l=0, r=0, t=0, b=0),
    paper_bgcolor=BG, plot_bgcolor=BG,
    showlegend=False,
    xaxis=dict(range=[-LON0 / PX_PER_DEG, (1200 - LON0) / PX_PER_DEG], visible=False, fixedrange=True),
    yaxis=dict(range=[1200, 0], visible=False, fixedrange=True),
    shapes=shapes,
    annotations=annotations,
)

squeeze = """
document.body.style.margin = '0';
document.querySelectorAll('.annotation-text').forEach(function (t) {
  if (t.textContent === 'statista') {
    t.setAttribute('textLength', '224');
    t.setAttribute('lengthAdjust', 'spacingAndGlyphs');
  }
});
"""
fig.write_html("out.html", post_script=squeeze, config=dict(displayModeBar=False))
